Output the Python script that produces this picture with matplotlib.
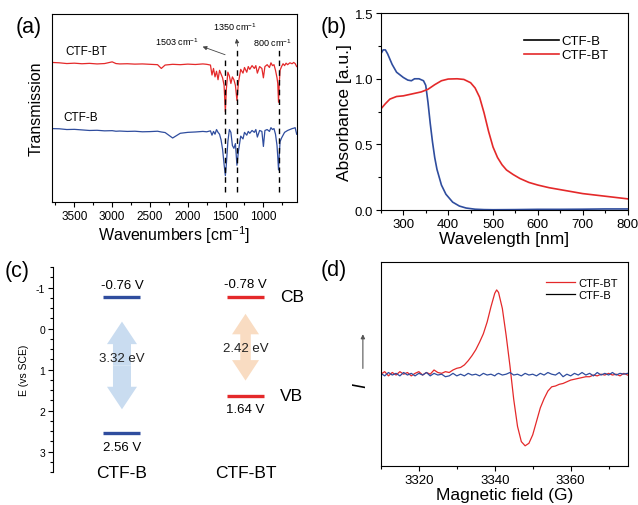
import matplotlib
matplotlib.use('Agg')
import matplotlib.pyplot as plt
import matplotlib.patches as mpatches
from matplotlib.lines import Line2D
from matplotlib.ticker import MultipleLocator, NullLocator

plt.rcParams['font.family'] = ['Liberation Sans', 'DejaVu Sans']
plt.rcParams['mathtext.default'] = 'regular'
plt.rcParams['axes.unicode_minus'] = False

RED = '#e4292a'
BLUE = '#2f4d9e'

# (a) FTIR, transmission in arbitrary units
ftir_wn = [3800, 3700, 3600, 3500, 3400, 3300, 3200, 3100, 3000, 2950, 2900, 2800, 2700,
           2600, 2500, 2400, 2350, 2300, 2200, 2100, 2000, 1900, 1800, 1750, 1700, 1680,
           1660, 1640, 1620, 1600, 1580, 1560, 1540, 1520, 1503, 1490, 1470, 1450, 1430,
           1410, 1390, 1370, 1350, 1330, 1300, 1270, 1250, 1220, 1200, 1180, 1150, 1120,
           1100, 1080, 1050, 1020, 1000, 980, 950, 920, 900, 880, 860, 840, 820, 810, 800,
           790, 780, 760, 740, 720, 700, 680, 650, 620, 600, 580, 560]
ftir_bt = [74.2, 74.0, 73.6, 73.8, 73.5, 73.7, 73.4, 73.6, 74.5, 73.6, 73.4, 73.5, 73.3,
           73.4, 73.2, 73.0, 71.0, 72.8, 73.2, 73.0, 73.3, 73.1, 73.4, 73.2, 72.8, 67.5,
           71.0, 66.5, 69.5, 65.0, 70.0, 68.0, 66.0, 62.0, 48.0, 60.0, 69.0, 67.0, 63.0,
           66.5, 65.0, 62.0, 54.0, 63.5, 70.5, 68.5, 71.5, 69.0, 72.0, 70.5, 72.5, 71.0,
           72.5, 68.5, 72.0, 71.0, 66.0, 72.0, 73.0, 71.5, 74.0, 72.5, 73.0, 70.0, 66.0, 63.0, 53.0,
           63.0, 70.0, 72.0, 73.5, 72.5, 73.8, 73.0, 74.0, 73.5, 74.2, 73.6, 72.0]
ftir_b = [39.0, 38.9, 38.5, 38.6, 38.3, 38.0, 38.1, 37.8, 37.9, 37.6, 37.7, 37.5, 37.6,
          37.3, 37.4, 37.6, 37.2, 36.9, 34.0, 36.5, 37.0, 37.2, 37.5, 37.3, 37.8, 35.5,
          37.5, 36.0, 38.5, 37.0, 36.0, 33.0, 28.0, 20.0, 14.0, 20.0, 32.0, 38.5, 37.0,
          30.0, 28.5, 31.0, 19.5, 27.0, 35.0, 33.5, 37.0, 35.5, 37.5, 36.5, 38.0, 37.0,
          38.5, 34.5, 38.0, 37.5, 29.5, 38.0, 38.5, 37.5, 39.5, 38.5, 39.0, 36.0, 30.0, 24.0, 17.0,
          25.0, 32.0, 34.0, 35.5, 37.0, 37.5, 38.0, 38.5, 39.0, 39.2, 39.5, 36.0]
ftir_marks = [1503, 1350, 800]
ftir_mark_top = [77.7, 81.4, 82.4]

# (b) UV-vis
uv_b_nm = [250, 255, 260, 265, 275, 285, 300, 310, 318, 325, 335, 345, 350, 355, 360, 365,
           370, 375, 385, 395, 410, 425, 440, 460, 480, 500, 550, 600, 650, 700, 750, 800]
uv_b = [1.19, 1.22, 1.22, 1.19, 1.11, 1.05, 1.01, 0.99, 0.985, 1.0, 1.0, 0.985, 0.95, 0.82,
        0.66, 0.52, 0.40, 0.31, 0.19, 0.12, 0.06, 0.03, 0.015, 0.006, 0.003, 0.002, 0.003,
        0.005, 0.005, 0.006, 0.008, 0.008]
uv_bt_nm = [250, 260, 270, 285, 300, 320, 340, 355, 370, 385, 400, 420, 435, 450, 460, 470,
            480, 490, 500, 510, 520, 530, 545, 560, 580, 600, 625, 650, 675, 700, 725, 750,
            775, 800]
uv_bt = [0.77, 0.81, 0.845, 0.865, 0.87, 0.885, 0.90, 0.92, 0.955, 0.985, 0.998, 1.0, 0.995,
         0.97, 0.93, 0.86, 0.74, 0.60, 0.48, 0.40, 0.345, 0.305, 0.27, 0.24, 0.21, 0.19,
         0.17, 0.155, 0.14, 0.125, 0.115, 0.105, 0.095, 0.085]

# (c) band positions (V vs SCE)
band_names = ['CTF-B', 'CTF-BT']
band_cb = [-0.76, -0.78]
band_vb = [2.56, 1.64]
band_gap = ['3.32 eV', '2.42 eV']

# (d) EPR
epr_field = [3310, 3311, 3312, 3313, 3314, 3315, 3316, 3317, 3318, 3319, 3320, 3321, 3322,
             3323, 3324, 3325, 3326, 3327, 3328, 3329, 3330, 3331, 3332, 3333, 3334, 3335,
             3336, 3337, 3338, 3339, 3340, 3340.5, 3341, 3342, 3343, 3344, 3345, 3346, 3347,
             3348, 3349, 3350, 3351, 3352, 3353, 3354, 3355, 3356, 3357, 3358, 3359, 3360,
             3361, 3362, 3363, 3364, 3365, 3366, 3367, 3368, 3369, 3370, 3371, 3372, 3373,
             3374, 3375]
epr_bt = [0.00, 0.03, -0.02, 0.02, -0.01, 0.03, 0.00, 0.02, -0.02, 0.01, 0.03, -0.01, 0.02,
          0.00, 0.05, 0.02, 0.01, 0.03, 0.02, 0.05, 0.07, 0.08, 0.11, 0.16, 0.22, 0.29,
          0.38, 0.48, 0.62, 0.80, 0.96, 1.00, 0.97, 0.78, 0.46, 0.10, -0.30, -0.62, -0.80,
          -0.85, -0.82, -0.72, -0.56, -0.40, -0.29, -0.20, -0.15, -0.14, -0.12, -0.11, -0.09, -0.07,
          -0.06, -0.05, -0.04, -0.03, -0.03, -0.01, -0.02, 0.00, -0.01, 0.01, -0.01, 0.00, -0.02,
          0.01, -0.01]
epr_b = [0.01, -0.02, 0.02, -0.01, 0.01, -0.02, 0.02, -0.01, 0.01, -0.02, 0.01, -0.01, 0.02,
         -0.02, 0.01, -0.01, 0.00, -0.03, -0.02, 0.01, -0.02, 0.00, -0.02, 0.01, -0.01, 0.00,
         -0.02, 0.01, -0.01, 0.00, -0.02, 0.00, 0.01, -0.01, 0.00, 0.02, -0.01, 0.00, -0.02,
         0.01, -0.01, 0.00, -0.02, 0.01, -0.01, 0.02, 0.00, -0.01, 0.02, -0.03, 0.00, -0.02,
         0.01, -0.01, 0.02, -0.01, 0.01, -0.02, 0.02, -0.01, 0.01, -0.01, 0.02, -0.01, 0.01,
         0.00, 0.01]

fig = plt.figure(figsize=(6.38, 5.06), dpi=100)

def style_ticks(ax, size=8.5):
    ax.tick_params(which='major', direction='out', length=3.5, width=0.8, labelsize=size, pad=2)
    ax.tick_params(which='minor', direction='out', length=2, width=0.8)
    for s in ax.spines.values():
        s.set_linewidth(0.8)

# ---- (a)
ax = fig.add_axes([0.081, 0.599, 0.384, 0.3715])
ax.plot(ftir_wn, ftir_bt, color=RED, lw=0.9)
ax.plot(ftir_wn, ftir_b, color=BLUE, lw=0.9)
for wn, top in zip(ftir_marks, ftir_mark_top):
    ax.plot([wn, wn], [5.3, top], color='black', lw=1.0, ls=(0, (4, 3)))
ax.set_xlim(3800, 560)
ax.set_ylim(0, 100)
ax.xaxis.set_major_locator(MultipleLocator(500))
ax.xaxis.set_minor_locator(MultipleLocator(250))
ax.yaxis.set_major_locator(NullLocator())
style_ticks(ax)
ax.set_xlabel('Wavenumbers [cm$^{-1}$]', fontsize=11.5, labelpad=1)
ax.set_ylabel('Transmission', fontsize=11.5, labelpad=6)
ax.text(3620, 78.5, 'CTF-BT', fontsize=8.5)
ax.text(3650, 43.5, 'CTF-B', fontsize=8.5)
ax.annotate('', xy=(1838, 83.1), xytext=(1472, 77.8),
            arrowprops=dict(arrowstyle='-|>', color='#444444', lw=0.6, mutation_scale=6))
ax.text(2143, 85.6, '1503 cm$^{-1}$', fontsize=6.5, ha='center', va='center')
ax.annotate('', xy=(1362, 88.3), xytext=(1336, 81.4),
            arrowprops=dict(arrowstyle='-|>', color='#444444', lw=0.6, mutation_scale=6))
ax.text(1375, 93.6, '1350 cm$^{-1}$', fontsize=6.5, ha='center', va='center')
ax.text(885, 85.1, '800 cm$^{-1}$', fontsize=6.5, ha='center', va='center')
fig.text(0.025, 0.945, '(a)', fontsize=15.5, va='center')

# ---- (b)
ax = fig.add_axes([0.597, 0.583, 0.3867, 0.389])
ax.plot(uv_b_nm, uv_b, color=BLUE, lw=1.2)
ax.plot(uv_bt_nm, uv_bt, color=RED, lw=1.2)
ax.set_xlim(250, 800)
ax.set_ylim(0, 1.5)
ax.xaxis.set_major_locator(MultipleLocator(100))
ax.xaxis.set_minor_locator(MultipleLocator(50))
ax.yaxis.set_major_locator(MultipleLocator(0.5))
ax.yaxis.set_minor_locator(MultipleLocator(0.25))
style_ticks(ax, 9.5)
ax.set_xlabel('Wavelength [nm]', fontsize=12.5, labelpad=1)
ax.set_ylabel('Absorbance [a.u.]', fontsize=12.5, labelpad=2)
handles = [Line2D([], [], color='black', lw=1.2), Line2D([], [], color=RED, lw=1.2)]
ax.legend(handles, ['CTF-B', 'CTF-BT'], loc='upper right', frameon=False, fontsize=9.5,
          handlelength=2.6, handletextpad=0.2, labelspacing=0.15, bbox_to_anchor=(0.97, 0.95))
fig.text(0.503, 0.945, '(b)', fontsize=15.5, va='center')

# ---- (c)
ax = fig.add_axes([0.083, 0.0652, 0.392, 0.405])
ax.set_xlim(0, 1)
ax.set_ylim(3.5, -1.5)
for s in ['top', 'right', 'bottom']:
    ax.spines[s].set_visible(False)
ax.xaxis.set_major_locator(NullLocator())
ax.yaxis.set_major_locator(MultipleLocator(1))
ax.yaxis.set_minor_locator(MultipleLocator(0.25))
style_ticks(ax, 7.5)
ax.set_ylabel('E (vs SCE)', fontsize=7.5, labelpad=5)

centres = [0.276, 0.77]
level_colors = [BLUE, RED]
arrow_colors = ['#c9dcf0', '#f9dcc2']
arrow_span = [(-0.17, 1.97), (-0.36, 1.27)]
arrow_w = [(0.072, 0.12, 0.55), (0.042, 0.108, 0.5)]
gap_y = [0.72, 0.47]
for i in range(2):
    xc = centres[i]
    ax.plot([xc - 0.074, xc + 0.074], [band_cb[i], band_cb[i]], color=level_colors[i], lw=2.4,
            solid_capstyle='butt')
    ax.plot([xc - 0.074, xc + 0.074], [band_vb[i], band_vb[i]], color=level_colors[i], lw=2.4,
            solid_capstyle='butt')
    top, bot = arrow_span[i]
    mid = (top + bot) / 2
    w, hw, hl = arrow_w[i]
    for end in (top, bot):
        ax.add_patch(mpatches.FancyArrow(xc, mid, 0, end - mid, width=w, head_width=hw,
                                         head_length=hl, length_includes_head=True,
                                         color=arrow_colors[i], lw=0))
    ax.text(xc, band_cb[i] - 0.3, '%.2f V' % band_cb[i], fontsize=9.5, ha='center', va='center')
    ax.text(xc, band_vb[i] + 0.33, '%.2f V' % band_vb[i], fontsize=9.5, ha='center', va='center')
    ax.text(xc, gap_y[i], band_gap[i], fontsize=9.5, ha='center', va='center', color='#222222')
    ax.text(xc, 3.52, band_names[i], fontsize=12.5, ha='center', va='center')
ax.text(0.955, band_cb[1], 'CB', fontsize=12.5, ha='center', va='center')
ax.text(0.955, band_vb[1], 'VB', fontsize=12.5, ha='center', va='center')
fig.text(0.008, 0.463, '(c)', fontsize=15.5, va='center')

# ---- (d)
ax = fig.add_axes([0.597, 0.077, 0.3867, 0.403])
ax.plot(epr_field, epr_bt, color=RED, lw=0.9)
ax.plot(epr_field, epr_b, color=BLUE, lw=0.9)
ax.set_xlim(3310, 3375)
ax.set_ylim(-1.09, 1.33)
ax.xaxis.set_major_locator(MultipleLocator(20))
ax.xaxis.set_minor_locator(MultipleLocator(10))
ax.yaxis.set_major_locator(NullLocator())
style_ticks(ax, 9.5)
ax.set_xlabel('Magnetic field (G)', fontsize=12.5, labelpad=1)
ax.text(-0.08, 0.40, 'I', transform=ax.transAxes, fontsize=13, style='italic',
        rotation=90, ha='center', va='center')
ax.annotate('', xy=(-0.073, 0.66), xytext=(-0.073, 0.465), xycoords='axes fraction',
            textcoords='axes fraction',
            arrowprops=dict(arrowstyle='-|>', color='#555555', lw=0.8, mutation_scale=6))
handles = [Line2D([], [], color=RED, lw=0.9), Line2D([], [], color='black', lw=0.9)]
ax.legend(handles, ['CTF-BT', 'CTF-B'], loc='upper right', frameon=False, fontsize=8,
          handlelength=2.6, handletextpad=0.3, labelspacing=0.15, bbox_to_anchor=(1.0, 0.97))
fig.text(0.503, 0.466, '(d)', fontsize=15.5, va='center')

fig.savefig('out.png', dpi=100)
